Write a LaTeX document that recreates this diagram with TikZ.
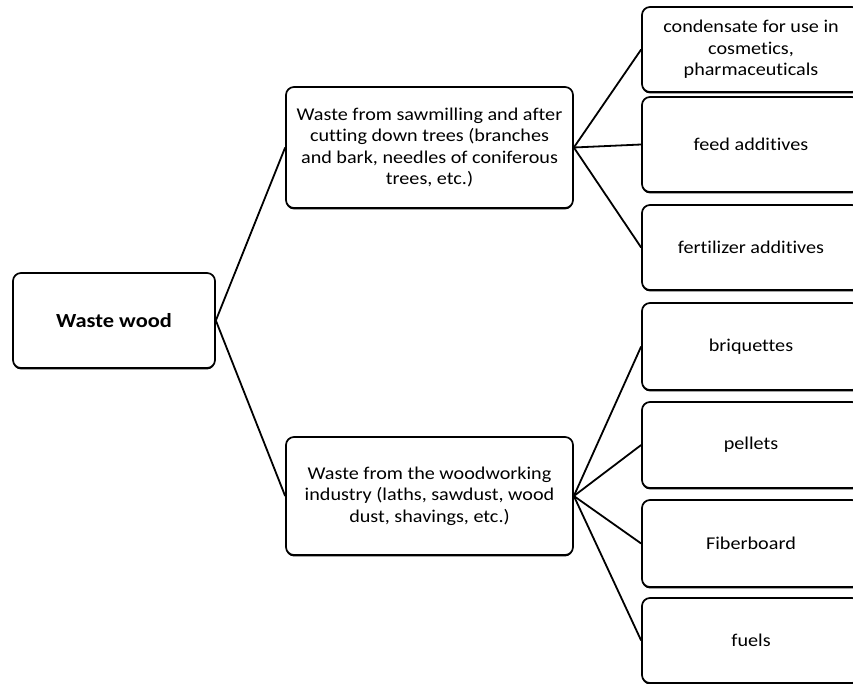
\documentclass[tikz,border=0pt]{standalone}
\usepackage{fontspec}
\setmainfont{Carlito}[FakeStretch=1.12, RawFeature=-liga]
\usetikzlibrary{shadows}
\begin{document}
\begin{tikzpicture}[x=1pt,y=-1pt,
  box/.style={draw=black, line width=1.7pt, rounded corners=8pt, fill=white,
    drop shadow={shadow xshift=0pt, shadow yshift=-1.4pt, fill=black, opacity=1},
    align=center, inner sep=0pt, font=\fontsize{18}{21.5}\selectfont},
  link/.style={draw=black, line width=1.8pt}]
\useasboundingbox (0,0) rectangle (853,684);
\clip (0,0) rectangle (853,684);
\fill[white] (0,0) rectangle (853,684);

% root
\node[box, minimum width=202pt, minimum height=95pt, font=\fontsize{20}{24}\selectfont\bfseries]
  (ww) at (114,320.5) {Waste wood};

% middle level
\node[box, minimum width=287pt, minimum height=121pt] (saw) at (429.5,147.5)
  {Waste from sawmilling and after\\cutting down trees (branches\\and bark, needles of coniferous\\trees, etc.)};
\node[box, minimum width=287pt, minimum height=118pt] (wood) at (429.5,496)
  {Waste from the woodworking\\industry (laths, sawdust, wood\\dust, shavings, etc.)};

% products (cut off at the right edge)
\node[box, minimum width=218pt, minimum height=85pt] (cond) at (751,49.5)
  {condensate for use in\\cosmetics,\\pharmaceuticals};
\node[box, minimum width=218pt, minimum height=95pt] (feed) at (751,144.5) {feed additives};
\node[box, minimum width=218pt, minimum height=85pt] (fert) at (751,247.5) {fertilizer additives};
\node[box, minimum width=218pt, minimum height=87pt] (briq) at (751,346.5) {briquettes};
\node[box, minimum width=218pt, minimum height=86pt] (pell) at (751,445) {pellets};
\node[box, minimum width=218pt, minimum height=87pt] (fibr) at (751,543.5) {Fiberboard};
\node[box, minimum width=218pt, minimum height=85pt] (fuel) at (751,640.5) {fuels};

% connectors
\draw[link] (ww.east) -- (saw.west);
\draw[link] (ww.east) -- (wood.west);
\draw[link] (saw.east) -- (cond.west);
\draw[link] (saw.east) -- (feed.west);
\draw[link] (saw.east) -- (fert.west);
\draw[link] (wood.east) -- (briq.west);
\draw[link] (wood.east) -- (pell.west);
\draw[link] (wood.east) -- (fibr.west);
\draw[link] (wood.east) -- (fuel.west);
\end{tikzpicture}
\end{document}
